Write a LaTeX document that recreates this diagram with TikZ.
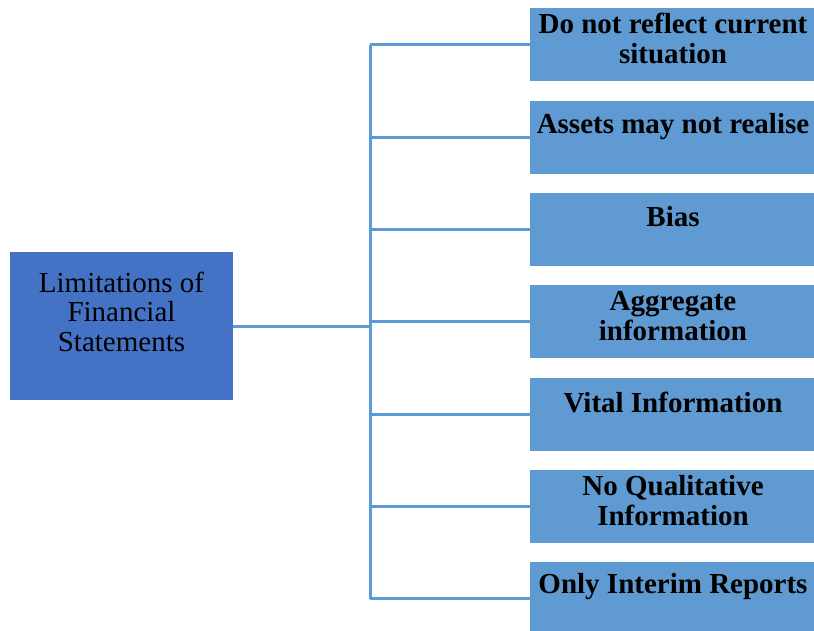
\documentclass[tikz,border=0pt]{standalone}
\usepackage{fontspec}
\setmainfont{Liberation Serif}
\definecolor{rootblue}{HTML}{4472C4}
\definecolor{leafblue}{HTML}{5F9BD2}
\definecolor{linkblue}{HTML}{5B9BD5}
\begin{document}
\begin{tikzpicture}[x=1pt,y=-1pt,
  rootbox/.style={draw=none,fill=rootblue,inner sep=0pt,anchor=north west,
    minimum width=223pt,minimum height=148pt},
  leafbox/.style={draw=none,fill=leafblue,inner sep=0pt,anchor=north west,
    minimum width=284pt,minimum height=73pt},
  roottext/.style={anchor=base,align=center,inner sep=0pt,
    font=\fontsize{29}{29.5}\selectfont},
  leaftext/.style={anchor=base,align=center,inner sep=0pt,
    font=\fontsize{29}{29.5}\selectfont\bfseries},
  link/.style={draw=linkblue,line width=3pt}]
\useasboundingbox (0,0) rectangle (814,630);

% main box (text anchored at the baseline of its last line)
\node[rootbox] (root) at (10,252) {};
\node[roottext] (rt) at (121.5,351) {Limitations of\\Financial\\Statements};

% limitation boxes
\node[leafbox] (b1) at (530,8) {};
\node[leafbox] (b2) at (530,101) {};
\node[leafbox] (b3) at (530,193) {};
\node[leafbox] (b4) at (530,285) {};
\node[leafbox] (b5) at (530,378) {};
\node[leafbox] (b6) at (530,470) {};
\node[leafbox] (b7) at (530,562) {};

\node[leaftext] (t1) at (673,63) {Do not reflect current\\situation};
\node[leaftext] (t2) at (673,133) {Assets may not realise};
\node[leaftext] (t3) at (673,226) {Bias};
\node[leaftext] (t4) at (673,340) {Aggregate\\information};
\node[leaftext] (t5) at (673,412) {Vital Information};
\node[leaftext] (t6) at (673,525) {No Qualitative\\Information};
\node[leaftext] (t7) at (673,593) {Only Interim Reports};

% branching connector
\foreach \i in {1,...,7} {
  \coordinate (j\i) at (370,0 |- b\i.west);
}
\draw[link] (j1) -- (j7);
\draw[link] (root.east) -- (root.east -| j1);
\foreach \i in {1,...,7} {
  \draw[link] (j\i) -- (b\i.west);
}
\end{tikzpicture}
\end{document}
